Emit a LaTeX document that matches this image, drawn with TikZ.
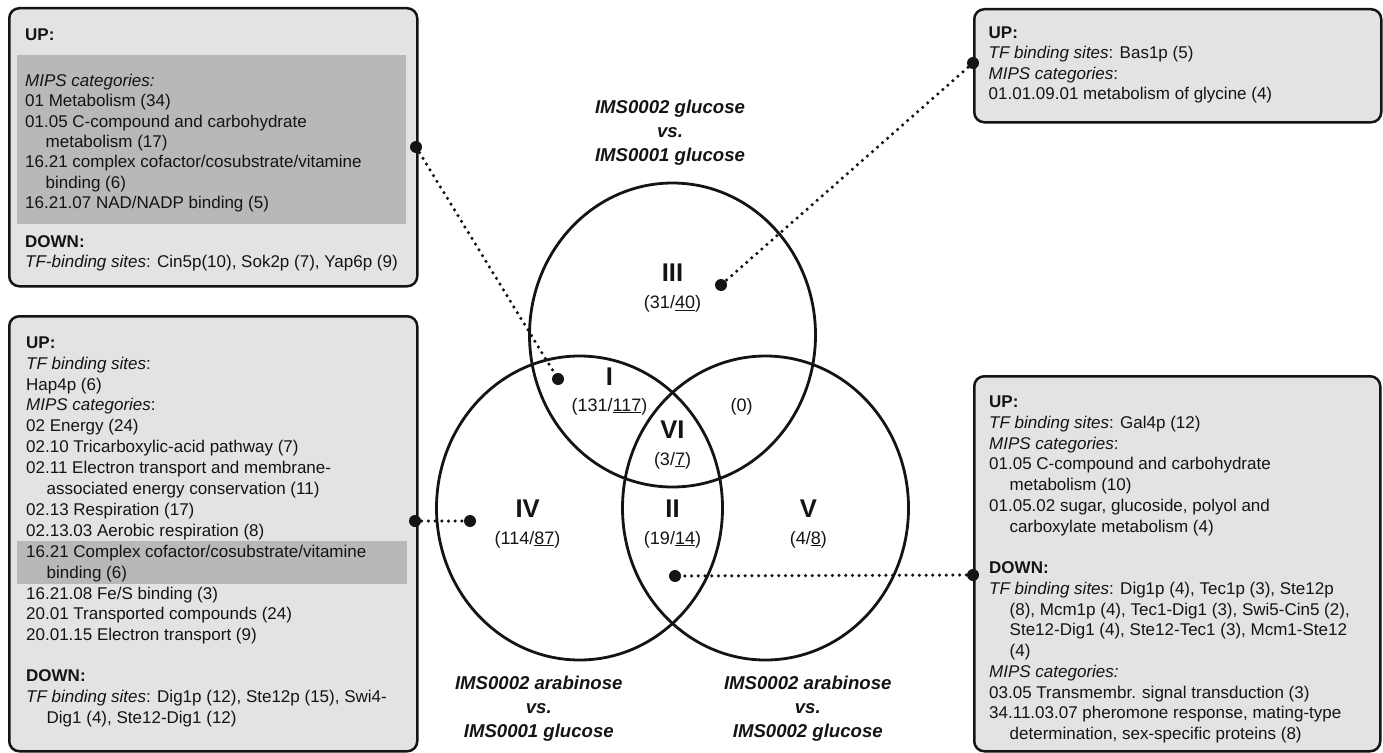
\documentclass[tikz,border=0pt]{standalone}
\usepackage{fontspec}
\setmainfont{Liberation Sans}
\usetikzlibrary{shapes.geometric}
\definecolor{boxfill}{gray}{0.89}
\definecolor{bandfill}{gray}{0.72}
\definecolor{ink}{gray}{0.08}
\begin{document}
\begin{tikzpicture}[x=1pt,y=-1pt,
  infobox/.style={draw=ink, line width=2.5pt, rounded corners=10pt, fill=boxfill, inner sep=0pt, anchor=north west},
  band/.style={fill=bandfill, draw=none, inner sep=0pt, anchor=north west},
  boxtext/.style={anchor=north west, inner sep=0pt, align=left, text=ink},
  venn/.style={ellipse, draw=ink, line width=2.8pt, minimum width=286pt, minimum height=304pt, inner sep=0pt},
  roman/.style={font=\fontsize{25.6}{30}\selectfont\bfseries, anchor=base, inner sep=0pt, text=ink},
  count/.style={font=\fontsize{18}{22}\selectfont, anchor=base, inner sep=0pt, text=ink},
  title/.style={font=\fontsize{18.6}{23.8}\selectfont\bfseries\itshape, align=center, anchor=north, inner sep=0pt, text=ink},
  dot/.style={circle, fill=ink, inner sep=0pt, minimum size=12pt},
  conn/.style={draw=ink, line width=3.5pt, dash pattern=on 0pt off 6.7pt, line cap=round},
]
\useasboundingbox (0,0) rectangle (1383,752);

% ---------- info boxes ----------
\node[infobox, minimum width=408pt, minimum height=278pt] (b1) at (8,7) {};
\node[band, minimum width=389pt, minimum height=169pt] (band1) at (17,55) {};
\node[boxtext, font=\fontsize{17}{20.4}\selectfont] (t1) at (25,25.72) {\strut\textbf{UP:}\\[25.6pt]
\textit{MIPS categories:}\\
01 Metabolism (34)\\
01.05 C-compound and carbohydrate\\
\hspace*{20.5pt}metabolism (17)\\
16.21 complex cofactor/cosubstrate/vitamine\\
\hspace*{20.5pt}binding (6)\\
16.21.07 NAD/NADP binding (5)\\[18.2pt]
\textbf{DOWN:}\\
\textit{TF-binding sites}: Cin5p(10), Sok2p (7), Yap6p (9)};

\node[infobox, minimum width=408pt, minimum height=435pt] (b2) at (8,315) {};
\node[band, minimum width=390pt, minimum height=43pt] (band2) at (17,541) {};
\node[boxtext, font=\fontsize{17}{20.9}\selectfont] (t2) at (26,333.37) {\strut\textbf{UP:}\\
\textit{TF binding sites}:\\
Hap4p (6)\\
\textit{MIPS categories}:\\
02 Energy (24)\\
02.10 Tricarboxylic-acid pathway (7)\\
02.11 Electron transport and membrane-\\
\hspace*{20.5pt}associated energy conservation (11)\\
02.13 Respiration (17)\\
02.13.03 Aerobic respiration (8)\\
16.21 Complex cofactor/cosubstrate/vitamine\\
\hspace*{20.5pt}binding (6)\\
16.21.08 Fe/S binding (3)\\
20.01 Transported compounds (24)\\
20.01.15 Electron transport (9)\\[20.2pt]
\textbf{DOWN:}\\
\textit{TF binding sites}: Dig1p (12), Ste12p (15), Swi4-\\
\hspace*{20.5pt}Dig1 (4), Ste12-Dig1 (12)};

\node[infobox, minimum width=407pt, minimum height=113pt] (b3) at (973,8) {};
\node[boxtext, font=\fontsize{17}{20.5}\selectfont] (t3) at (988.5,23.65) {\strut\textbf{UP:}\\
\textit{TF binding sites}: Bas1p (5)\\
\textit{MIPS categories}:\\
01.01.09.01 metabolism of glycine (4)};

\node[infobox, minimum width=406pt, minimum height=375pt] (b4) at (973,375) {};
\node[boxtext, font=\fontsize{17}{20.75}\selectfont] (t4) at (989,392.77) {\strut\textbf{UP:}\\
\textit{TF binding sites}: Gal4p (12)\\
\textit{MIPS categories}:\\
01.05 C-compound and carbohydrate\\
\hspace*{20.5pt}metabolism (10)\\
01.05.02 sugar, glucoside, polyol and\\
\hspace*{20.5pt}carboxylate metabolism (4)\\[20.75pt]
\textbf{DOWN:}\\
\textit{TF binding sites}: Dig1p (4), Tec1p (3), Ste12p\\
\hspace*{20.5pt}(8), Mcm1p (4), Tec1-Dig1 (3), Swi5-Cin5 (2),\\
\hspace*{20.5pt}Ste12-Dig1 (4), Ste12-Tec1 (3), Mcm1-Ste12\\
\hspace*{20.5pt}(4)\\
\textit{MIPS categories:}\\
03.05 Transmembr. signal transduction (3)\\
34.11.03.07 pheromone response, mating-type\\
\hspace*{20.5pt}determination, sex-specific proteins (8)};

% ---------- Venn ----------
\node[venn] (cIII) at (672.5,335) {};
\node[venn] (cIV) at (579.5,508) {};
\node[venn] (cV) at (765.5,508) {};

\node[title] (tTop) at (670,96.6) {\strut IMS0002 glucose\\vs.\\IMS0001 glucose};
\node[title] (tLeft) at (538.8,672.6) {\strut IMS0002 arabinose\\vs.\\IMS0001 glucose};
\node[title] (tRight) at (807.8,672.6) {\strut IMS0002 arabinose\\vs.\\IMS0002 glucose};

\node[roman] (nIII) at (672.5,281.7) {III};
\node[count] (kIII) at (672.5,308.3) {(31/\underline{40})};
\node[roman] (nI) at (609.3,385) {I};
\node[count] (kI) at (609.5,411) {(131/\underline{117})};
\node[count] (k0) at (741.7,411) {(0)};
\node[roman] (nVI) at (672.5,438.3) {VI};
\node[count] (kVI) at (672.5,465) {(3/\underline{7})};
\node[roman] (nIV) at (527.7,517.3) {IV};
\node[count] (kIV) at (527.5,544) {(114/\underline{87})};
\node[roman] (nII) at (672.5,517.3) {II};
\node[count] (kII) at (672.5,544) {(19/\underline{14})};
\node[roman] (nV) at (808.3,517.3) {V};
\node[count] (kV) at (808.3,544) {(4/\underline{8})};

% ---------- connectors ----------
\node[dot] (d1a) at (416,147) {};
\node[dot] (d1b) at (558,379) {};
\node[dot] (d2a) at (415,521) {};
\node[dot] (d2b) at (470,521) {};
\node[dot] (d3a) at (973,63) {};
\node[dot] (d3b) at (721,285) {};
\node[dot] (d4a) at (973,575) {};
\node[dot] (d4b) at (675,576) {};
\draw[conn] (d1a.center) -- (d1b.center);
\draw[conn] (d2a.center) -- (d2b.center);
\draw[conn] (d3a.center) -- (d3b.center);
\draw[conn] (d4a.center) -- (d4b.center);
\end{tikzpicture}
\end{document}
